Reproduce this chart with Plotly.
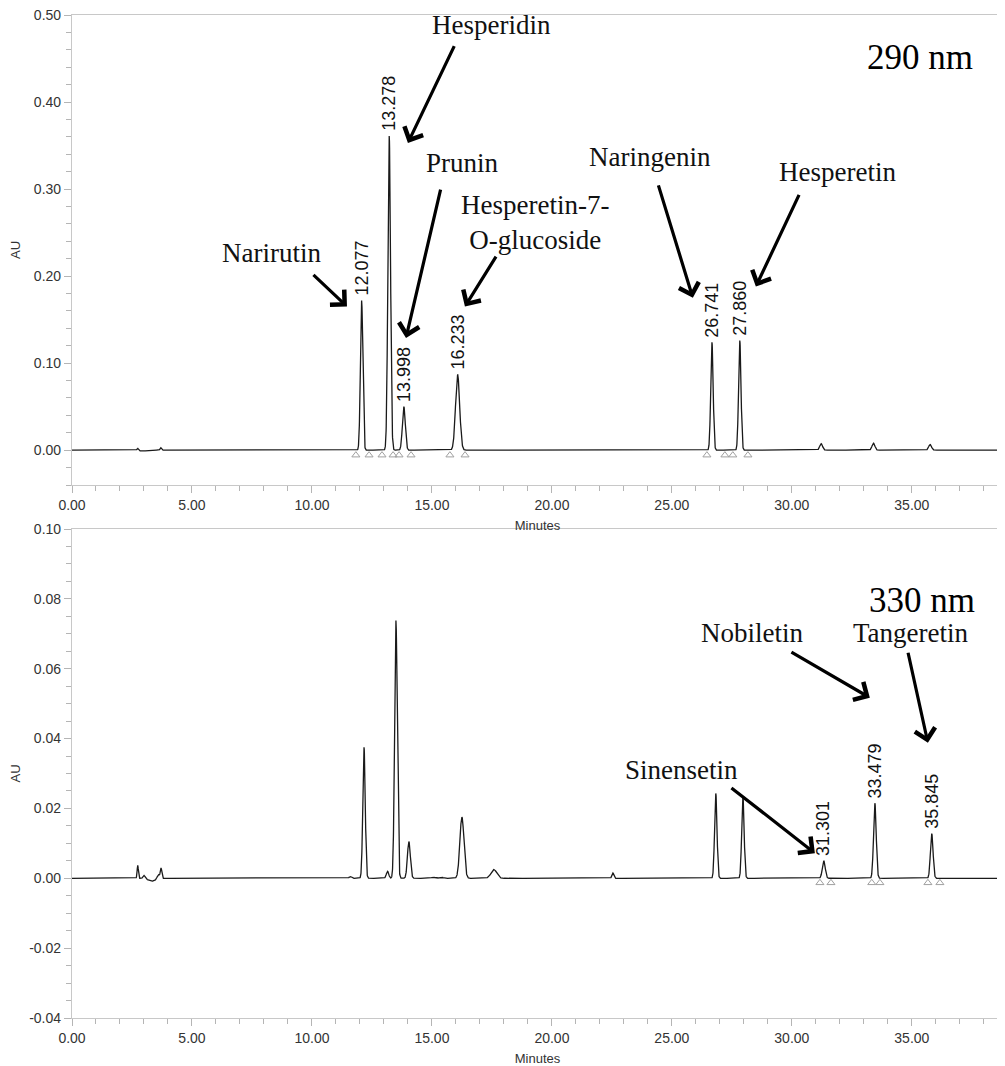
import numpy as np
import plotly.graph_objects as go

# ---------------- data ----------------
# 290 nm chromatogram: peak apex times (min), heights (AU), widths (sigma, min)
rt_290 = [2.74, 2.95, 3.70, 12.07, 13.22, 13.83, 16.07, 26.67, 27.83, 31.22, 33.40, 35.76]
h_290 = [0.0025, -0.0010, 0.0028, 0.172, 0.361, 0.050, 0.087, 0.124, 0.126, 0.0075, 0.0080, 0.0065]
w_290 = [0.03, 0.15, 0.03, 0.05, 0.055, 0.06, 0.085, 0.05, 0.05, 0.06, 0.06, 0.06]

# 330 nm chromatogram
rt_330 = [2.74, 3.00, 3.33, 3.60, 3.71, 11.60, 12.17, 13.15, 13.50, 14.04, 15.05, 15.40,
          16.25, 17.58, 22.54, 26.83, 27.96, 31.33, 33.46, 35.83]
h_330 = [0.0037, 0.0009, -0.0008, 0.0012, 0.0029, 0.0005, 0.0375, 0.0020, 0.0738, 0.0105, 0.0003, 0.0003,
         0.0175, 0.0025, 0.0015, 0.0243, 0.0235, 0.0050, 0.0215, 0.0128]
w_330 = [0.025, 0.04, 0.15, 0.05, 0.03, 0.05, 0.05, 0.05, 0.055, 0.06, 0.08, 0.08,
         0.085, 0.12, 0.04, 0.05, 0.05, 0.06, 0.055, 0.055]

# labelled peaks (retention time text placed at apex)
lab_290_x = [12.07, 13.22, 13.83, 16.07, 26.67, 27.83]
lab_290_y = [0.172, 0.361, 0.050, 0.087, 0.124, 0.126]
lab_290_t = ["12.077", "13.278", "13.998", "16.233", "26.741", "27.860"]

lab_330_x = [31.33, 33.46, 35.83]
lab_330_y = [0.0050, 0.0215, 0.0128]
lab_330_t = ["31.301", "33.479", "35.845"]

# integration markers (peak start / end)
tri_290 = [11.83, 12.38, 12.92, 13.38, 13.63, 14.13, 15.75, 16.38, 26.46, 27.21, 27.54, 28.17]
tri_330 = [31.17, 31.63, 33.33, 33.67, 35.67, 36.17]

# axis tick labels
x_ticks = [0, 5, 10, 15, 20, 25, 30, 35]
x_ticktext = ["0.00", "5.00", "10.00", "15.00", "20.00", "25.00", "30.00", "35.00"]
y290_ticks = [0.0, 0.1, 0.2, 0.3, 0.4, 0.5]
y290_ticktext = ["0.00", "0.10", "0.20", "0.30", "0.40", "0.50"]
y330_ticks = [-0.04, -0.02, 0.0, 0.02, 0.04, 0.06, 0.08, 0.10]
y330_ticktext = ["-0.04", "-0.02", "0.00", "0.02", "0.04", "0.06", "0.08", "0.10"]

# compound names: text, text position, arrow tail, arrow head
names_290 = ["Narirutin", "Hesperidin", "Prunin", "Hesperetin-7-<br>O-glucoside", "Naringenin", "Hesperetin"]
names_290_xy = [(8.33, 0.226), (17.5, 0.488), (16.29, 0.330), (19.29, 0.262), (24.1, 0.337), (31.92, 0.320)]
arrows_290 = [((10.0, 0.203), (11.46, 0.165)),
              ((15.96, 0.466), (14.0, 0.353)),
              ((15.375, 0.301), (13.92, 0.129)),
              ((17.71, 0.224), (16.375, 0.165)),
              ((24.42, 0.306), (25.875, 0.175)),
              ((30.33, 0.295), (28.5, 0.188))]

names_330 = ["Sinensetin", "Nobiletin", "Tangeretin"]
names_330_xy = [(25.42, 0.0310), (28.33, 0.0701), (34.96, 0.0701)]
arrows_330 = [((27.42, 0.0262), (30.96, 0.0072)),
              ((29.92, 0.0650), (33.25, 0.0517)),
              ((34.83, 0.0650), (35.67, 0.0388))]

# ---------------- build traces ----------------
t = np.arange(0, 38.81, 0.005)


def trace_from_peaks(rts, hs, ws):
    y = np.zeros_like(t)
    for r, h, w in zip(rts, hs, ws):
        y += h * np.exp(-0.5 * ((t - r) / w) ** 2)
    return y


y290 = trace_from_peaks(rt_290, h_290, w_290)
y330 = trace_from_peaks(rt_330, h_330, w_330)

fig = go.Figure()
fig.add_trace(go.Scatter(x=t, y=y290, mode="lines", line=dict(color="#1a1a1a", width=1.3),
                         xaxis="x", yaxis="y", showlegend=False, hoverinfo="skip"))
fig.add_trace(go.Scatter(x=tri_290, y=[-0.0057] * len(tri_290), mode="markers",
                         marker=dict(symbol="triangle-up-open", size=7, color="#a0a0a0", line=dict(width=1)),
                         xaxis="x", yaxis="y", showlegend=False, hoverinfo="skip"))
fig.add_trace(go.Scatter(x=t, y=y330, mode="lines", line=dict(color="#1a1a1a", width=1.3),
                         xaxis="x2", yaxis="y2", showlegend=False, hoverinfo="skip"))
fig.add_trace(go.Scatter(x=tri_330, y=[-0.0013] * len(tri_330), mode="markers",
                         marker=dict(symbol="triangle-up-open", size=7, color="#a0a0a0", line=dict(width=1)),
                         xaxis="x2", yaxis="y2", showlegend=False, hoverinfo="skip"))

ann = []
num_font = dict(family="Liberation Sans, Arial", size=18, color="#111")
name_font = dict(family="Liberation Serif, Times New Roman", size=27, color="#111")


def add_panel_annotations(xr, yr, lx, ly, lt, names, names_xy, arrows, tag, nm_xy):
    for x, y, s in zip(lx, ly, lt):
        ann.append(dict(x=x, y=y, xref=xr, yref=yr, text=s, textangle=-90, showarrow=False,
                        xanchor="center", yanchor="bottom", yshift=3, font=num_font))
    for s, (x, y) in zip(names, names_xy):
        ann.append(dict(x=x, y=y, xref=xr, yref=yr, text=s, showarrow=False, borderpad=0,
                        xanchor="center", yanchor="middle", font=name_font))
    for (tx, ty), (hx, hy) in arrows:
        ann.append(dict(x=hx, y=hy, ax=tx, ay=ty, xref=xr, yref=yr, axref=xr, ayref=yr,
                        text="", showarrow=True, arrowhead=4, arrowsize=1.25, arrowwidth=3.2,
                        arrowcolor="#000"))
    ann.append(dict(x=nm_xy[0], y=nm_xy[1], xref=xr, yref=yr, text=tag, showarrow=False,
                    xanchor="center", yanchor="middle",
                    font=dict(family="Liberation Serif, Times New Roman", size=35, color="#000")))


add_panel_annotations("x", "y", lab_290_x, lab_290_y, lab_290_t, names_290, names_290_xy,
                      arrows_290, "290 nm", (35.33, 0.451))
add_panel_annotations("x2", "y2", lab_330_x, lab_330_y, lab_330_t, names_330, names_330_xy,
                      arrows_330, "330 nm", (35.42, 0.0796))

tick_font = dict(family="Liberation Sans, Arial", size=14, color="#333")
title_font = dict(family="Liberation Sans, Arial", size=13, color="#333")

xcommon = dict(range=[0, 38.8], tickmode="array", tickvals=x_ticks, ticktext=x_ticktext,
               ticks="outside", ticklen=7, automargin=False, ticklabeloverflow="allow",
               tickcolor="#b5b5b5", showline=True, linecolor="#c8c8c8", linewidth=1.2, mirror=True,
               showgrid=False, zeroline=False, tickfont=tick_font,
               minor=dict(tick0=0, dtick=1, ticks="outside", ticklen=5, tickcolor="#b5b5b5"),
               title=dict(text="Minutes", font=title_font, standoff=8))
ycommon = dict(tickmode="array", ticks="outside", ticklen=7, tickcolor="#b5b5b5", showline=True,
               linecolor="#c8c8c8", linewidth=1.2, showgrid=False, zeroline=False, tickfont=tick_font,
               automargin=False, ticklabeloverflow="allow",
               title=dict(text="AU", font=title_font, standoff=12))

# the page body adds an 8px offset; figure sized to fill the remaining window
top_dom = [(1010 - 477) / 1003, 1.0]
bot_dom = [0.0, (1010 - 521) / 1003]

fig.update_layout(
    width=997, height=1058,
    margin=dict(l=64, r=2, t=7, b=48),
    paper_bgcolor="white", plot_bgcolor="white",
    xaxis=dict(xcommon, anchor="y"),
    yaxis=dict(ycommon, domain=top_dom, range=[-0.04, 0.50], tickvals=y290_ticks, ticktext=y290_ticktext,
               minor=dict(tick0=0, dtick=0.02, ticks="outside", ticklen=5, tickcolor="#b5b5b5"), anchor="x"),
    xaxis2=dict(xcommon, anchor="y2"),
    yaxis2=dict(ycommon, domain=bot_dom, range=[-0.04, 0.10], tickvals=y330_ticks, ticktext=y330_ticktext,
                minor=dict(tick0=0, dtick=0.005, ticks="outside", ticklen=5, tickcolor="#b5b5b5"), anchor="x2"),
    annotations=ann,
)

fig.write_html("out.html")
